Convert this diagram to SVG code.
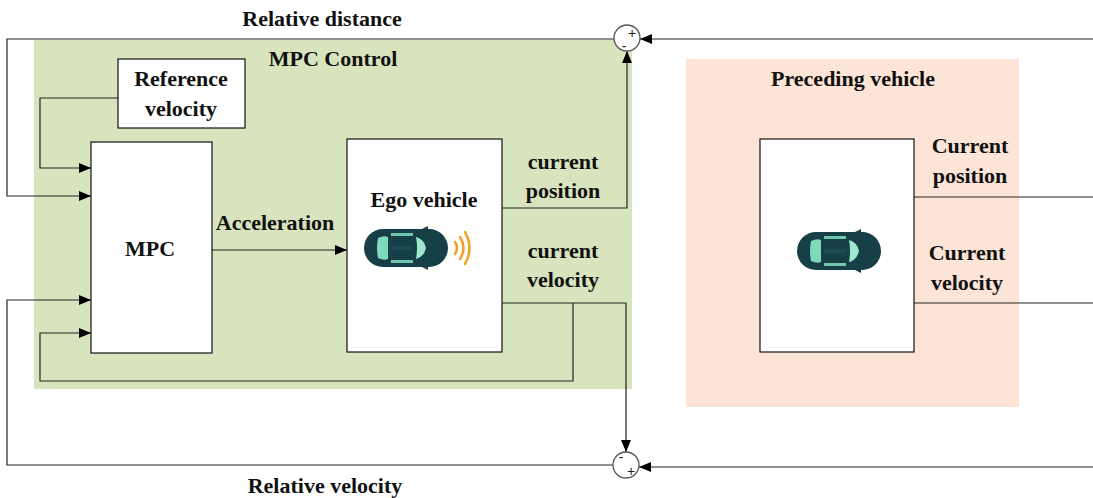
<svg xmlns="http://www.w3.org/2000/svg" width="1093" height="498" viewBox="0 0 1093 498">
  <style>
    .lbl { font-family: "Liberation Serif", "Times New Roman", serif; font-weight: bold; font-size: 22px; fill: #111; }
    .mid { text-anchor: middle; }
    .box { fill: #fff; stroke: #111; stroke-width: 1.2; }
    .wire { fill: none; stroke: #222; stroke-width: 1.2; }
    .sum { fill: #fff; stroke: #555; stroke-width: 1.3; }
    .sign { font-family: "Liberation Sans", Arial, sans-serif; font-size: 14px; fill: #222; text-anchor: middle; }
  </style>
  <defs>
    <marker id="arr" viewBox="0 0 12 10" refX="12" refY="5" markerWidth="12" markerHeight="10" markerUnits="userSpaceOnUse" orient="auto">
      <path d="M0,0 L12,5 L0,10 z" fill="#000"/>
    </marker>
    <!-- top-down car icon, nose pointing right -->
    <g id="car">
      <rect x="0" y="0" width="84" height="38" rx="19" fill="#173f47"/>
      <path d="M58,0 L64,-3 L64,2 z" fill="#173f47"/>
      <path d="M58,38 L64,41 L64,36 z" fill="#173f47"/>
      <path d="M14,9 Q20,6 24,8 L24,30 Q20,32 14,29 Q12,19 14,9 z" fill="#7fd9bb"/>
      <path d="M52,8 Q60,10 62,19 Q60,28 52,30 Q54,19 52,8 z" fill="#9ee8cc"/>
      <rect x="27" y="4" width="22" height="3" fill="#6fc9ac"/>
      <rect x="27" y="31" width="22" height="3" fill="#6fc9ac"/>
      <rect x="27" y="17" width="22" height="4" fill="#1e4b53"/>
    </g>
  </defs>

  <!-- background panels -->
  <rect id="mpc-control" x="34" y="40" width="598" height="349" fill="#d7e4bd"/>
  <rect id="preceding-panel" x="686" y="59" width="333" height="348" fill="#fce4d6"/>

  <!-- connectors -->
  <g id="connectors">
    <!-- relative distance feedback -->
    <path class="wire" d="M614,39 H7 V196 H91" marker-end="url(#arr)"/>
    <!-- reference velocity -->
    <path class="wire" d="M118,98 H40 V168 H91" marker-end="url(#arr)"/>
    <!-- relative velocity feedback -->
    <path class="wire" d="M613,465 H7 V300 H91" marker-end="url(#arr)"/>
    <!-- ego velocity feedback -->
    <path class="wire" d="M573,303 V381 H40 V333 H91" marker-end="url(#arr)"/>
    <!-- acceleration -->
    <path class="wire" d="M212,250 H347" marker-end="url(#arr)"/>
    <!-- ego current position -->
    <path class="wire" d="M502,208 H627 V51" marker-end="url(#arr)"/>
    <!-- ego current velocity -->
    <path class="wire" d="M502,303 H626 V452" marker-end="url(#arr)"/>
    <!-- preceding vehicle outputs -->
    <path class="wire" d="M1093,39 H640" marker-end="url(#arr)"/>
    <path class="wire" d="M1093,467 H639" marker-end="url(#arr)"/>
    <path class="wire" d="M914,197 H1093"/>
    <path class="wire" d="M914,303 H1093"/>
  </g>

  <!-- summing junctions -->
  <g id="sum-distance">
    <circle class="sum" cx="627" cy="38" r="13"/>
    <text class="sign" x="632" y="38">+</text>
    <text class="sign" x="624" y="51">-</text>
  </g>
  <g id="sum-velocity">
    <circle class="sum" cx="626" cy="465" r="13"/>
    <text class="sign" x="621" y="462">-</text>
    <text class="sign" x="631" y="476">+</text>
  </g>

  <g id="reference-velocity">
    <rect class="box" x="118" y="59" width="127" height="69"/>
    <text class="lbl mid" x="181" y="86">Reference</text>
    <text class="lbl mid" x="181" y="116">velocity</text>
  </g>

  <g id="mpc">
    <rect class="box" x="91" y="142" width="121" height="211"/>
    <text class="lbl mid" x="150" y="256">MPC</text>
  </g>

  <g id="ego-vehicle">
    <rect class="box" x="347" y="139" width="155" height="213"/>
    <text class="lbl mid" x="424" y="207">Ego vehicle</text>
    <use href="#car" x="364" y="229"/>
    <g fill="none" stroke="#f0a020" stroke-width="2.5" stroke-linecap="round">
      <path d="M455,242 Q459,248 455,254"/>
      <path d="M460,237 Q467,248 460,259"/>
      <path d="M465,232 Q474,248 465,264"/>
    </g>
  </g>

  <g id="preceding-vehicle">
    <rect class="box" x="760" y="139" width="154" height="213"/>
    <use href="#car" x="797" y="232"/>
  </g>

  <!-- labels -->
  <g id="labels">
    <text class="lbl mid" x="322" y="26">Relative distance</text>
    <text class="lbl mid" x="333" y="66">MPC Control</text>
    <text class="lbl mid" x="275" y="230">Acceleration</text>
    <text class="lbl mid" x="563" y="169">current</text>
    <text class="lbl mid" x="563" y="198">position</text>
    <text class="lbl mid" x="563" y="258">current</text>
    <text class="lbl mid" x="563" y="287">velocity</text>
    <text class="lbl mid" x="853" y="86">Preceding vehicle</text>
    <text class="lbl mid" x="970" y="153">Current</text>
    <text class="lbl mid" x="970" y="183">position</text>
    <text class="lbl mid" x="967" y="260">Current</text>
    <text class="lbl mid" x="967" y="290">velocity</text>
    <text class="lbl mid" x="325" y="493">Relative velocity</text>
  </g>
</svg>
